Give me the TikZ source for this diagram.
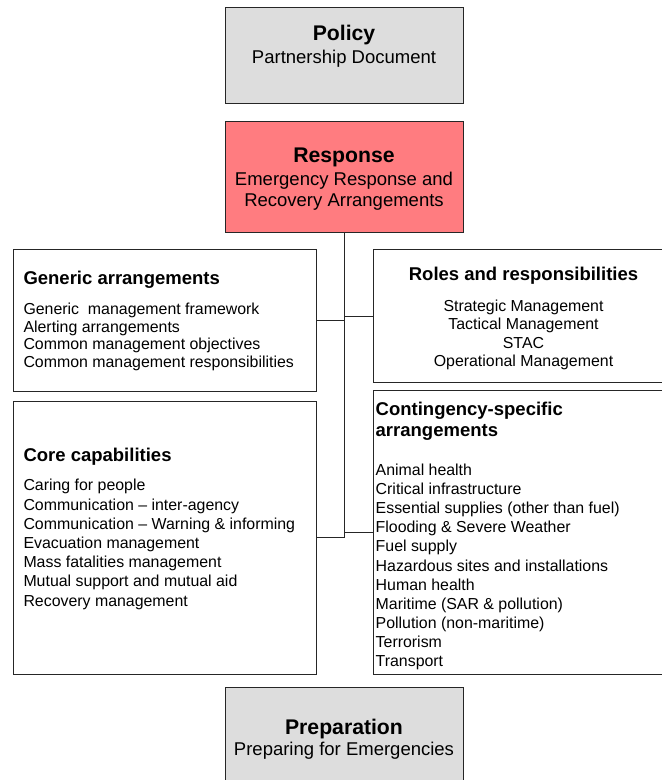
\documentclass[tikz,border=0pt]{standalone}
\usepackage{fontspec}
\setmainfont{Liberation Sans}
\definecolor{rosefill}{HTML}{FF7C80}
\definecolor{greyfill}{HTML}{DDDDDD}
\begin{document}
\begin{tikzpicture}[x=1pt,y=-1pt,
  box/.style={draw=black!85, line width=1.1pt, rectangle, inner sep=0pt, anchor=north west},
  ttl/.style={font=\fontsize{21.2}{24}\selectfont\bfseries, anchor=base, inner sep=0pt},
  sub/.style={font=\fontsize{18.5}{22}\selectfont, anchor=base, inner sep=0pt},
  hd/.style={font=\fontsize{18.5}{21}\selectfont\bfseries, anchor=base west, inner sep=0pt},
  hdc/.style={font=\fontsize{18.5}{21}\selectfont\bfseries, anchor=base, inner sep=0pt},
  itm/.style={font=\fontsize{15.9}{19}\selectfont, anchor=base west, inner sep=0pt},
  itmc/.style={font=\fontsize{15.9}{19}\selectfont, anchor=base, inner sep=0pt},
  link/.style={draw=black!85, line width=1.1pt}]
\useasboundingbox (0,0) rectangle (662,780);

% boxes
\node[box, fill=greyfill, minimum width=238, minimum height=96] (pol) at (225,7.3) {};
\node[box, fill=rosefill, minimum width=238, minimum height=110.7] (resp) at (225,121) {};
\node[box, minimum width=303, minimum height=141.7] (gen) at (12.7,249.3) {};
\node[box, minimum width=303, minimum height=273.3] (core) at (12.7,400.7) {};
\node[box, minimum width=303, minimum height=132.4] (roles) at (372.7,249.3) {};
\node[box, minimum width=303, minimum height=284] (cont) at (372.7,390) {};
\node[box, fill=greyfill, minimum width=238, minimum height=120] (prep) at (225,687.3) {};

% connectors
\draw[link] (resp.south) -- (resp.south |- core.east);
\draw[link] (gen.east) -- (gen.east -| resp.south);
\draw[link] (core.east) -- (core.east -| resp.south);
\draw[link] (roles.west) -- (roles.west -| resp.south);
\draw[link] (cont.west) -- (cont.west -| resp.south);

% top texts
\node[ttl] (polt) at (344,40) {Policy};
\node[sub] (pols) at (344,63.3) {Partnership Document};
\node[ttl] (respt) at (344,162.3) {Response};
\node[sub] (resps1) at (344,185) {Emergency Response and};
\node[sub] (resps2) at (344,206.7) {Recovery Arrangements};
\node[ttl] (prept) at (344,734.3) {Preparation};
\node[sub] (preps) at (344,755.7) {Preparing for Emergencies};

% generic arrangements
\node[hd] (genh) at (23.3,284) {Generic arrangements};
\foreach \t [count=\i] in {{Generic\ \ management framework},{Alerting arrangements},{Common management objectives},{Common management responsibilities}}
  \node[itm] (gen-\i) at (23.3,{314.8+17.5*(\i-1)}) {\t};

% core capabilities
\node[hd] (coreh) at (23.3,461.7) {Core capabilities};
\foreach \t [count=\i] in {{Caring for people},{Communication – inter-agency},{Communication – Warning \& informing},{Evacuation management},{Mass fatalities management},{Mutual support and mutual aid},{Recovery management}}
  \node[itm] (core-\i) at (23.3,{490.8+19.2*(\i-1)}) {\t};

% roles and responsibilities
\node[hdc] (rolesh) at (523.5,280) {Roles and responsibilities};
\foreach \t [count=\i] in {{Strategic Management},{Tactical Management},{STAC},{Operational Management}}
  \node[itmc] (roles-\i) at (523.5,{311.5+18.3*(\i-1)}) {\t};

% contingency-specific arrangements
\node[hd] (conth1) at (375.5,415) {Contingency-specific};
\node[hd] (conth2) at (375.5,436.7) {arrangements};
\foreach \t [count=\i] in {{Animal health},{Critical infrastructure},{Essential supplies (other than fuel)},{Flooding \& Severe Weather},{Fuel supply},{Hazardous sites and installations},{Human health},{Maritime (SAR \& pollution)},{Pollution (non-maritime)},{Terrorism},{Transport}}
  \node[itm] (cont-\i) at (375.5,{475.5+19.1*(\i-1)}) {\t};
\end{tikzpicture}
\end{document}
